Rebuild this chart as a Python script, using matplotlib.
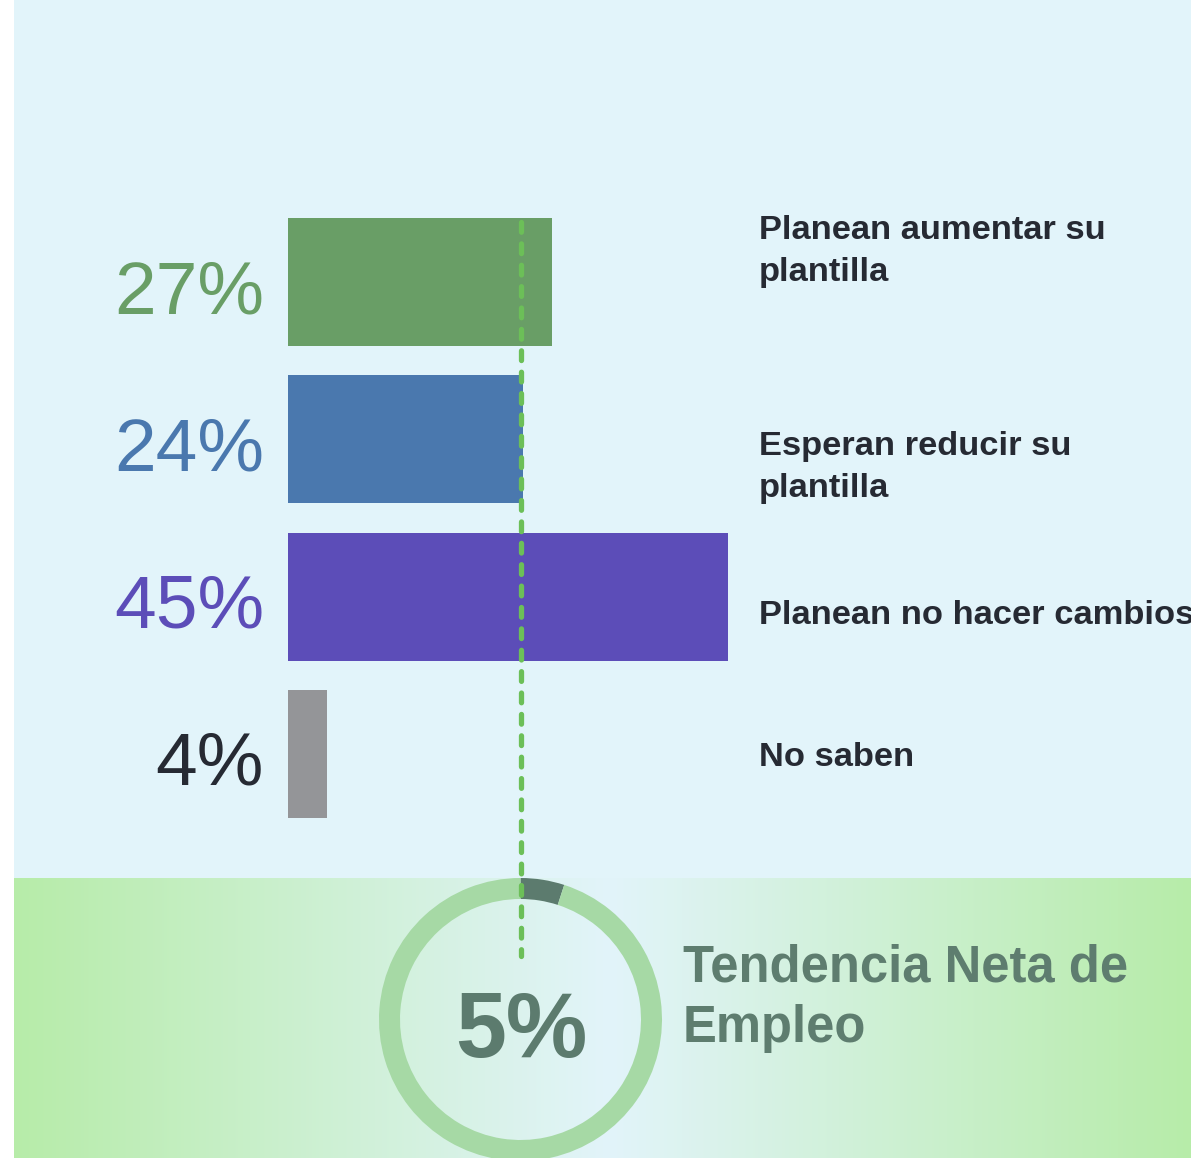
import numpy as np
import matplotlib
matplotlib.use("Agg")
import matplotlib.pyplot as plt
from matplotlib.colors import to_rgb

plt.rcParams['font.family'] = ['Liberation Sans', 'DejaVu Sans']
plt.rcParams['lines.scale_dashes'] = False

# datos
categorias = ["Planean aumentar su\nplantilla", "Esperan reducir su\nplantilla",
              "Planean no hacer cambios", "No saben"]
valores = [27, 24, 45, 4]
colores = ["#699e66", "#4a78ae", "#5c4db8", "#949598"]
colores_txt = ["#699e66", "#4a78ae", "#5c4db8", "#262a33"]
neta = 5
titulo_neta = ["Tendencia Neta de", "Empleo"]

W, H = 1191, 1158
fig = plt.figure(figsize=(W / 100, H / 100), dpi=100)
fig.patch.set_facecolor("white")

# fondo en coordenadas de pixel
bg = fig.add_axes([0, 0, 1, 1], zorder=0)
bg.set_xlim(0, W)
bg.set_ylim(H, 0)
bg.axis("off")
bg.add_patch(plt.Rectangle((14, 0), W - 14, 878, color="#e2f4fa", lw=0))

# degradado de la franja inferior
c_borde = np.array(to_rgb("#b7eca9"))
c_centro = np.array(to_rgb("#e2f4fa"))
xs = np.linspace(14, W, 600)
t = 1 - np.abs(xs - 610) / np.where(xs < 610, 610 - 14, W - 610)
grad = c_borde[None, :] + t[:, None] * (c_centro - c_borde)[None, :]
bg.imshow(grad[None, :, :], extent=[14, W, H, 878], aspect="auto", interpolation="bilinear")
bg.set_xlim(0, W)
bg.set_ylim(H, 0)

# anillo (donut)
r_px = 141.5
cx, cy = 520.5, 1019.5
axd = fig.add_axes([(cx - r_px) / W, (H - cy - r_px) / H, 2 * r_px / W, 2 * r_px / H], zorder=1)
axd.pie([neta, 100 - neta], colors=["#5c7b6e", "#a6d9a5"], startangle=90, counterclock=False,
        radius=1, wedgeprops=dict(width=21 / r_px, linewidth=0))
axd.set_xlim(-1, 1)
axd.set_ylim(-1, 1)
axd.axis("off")

# barras
px_por_pct = 440 / 45
sep = 157.33
y0 = 282
ax = fig.add_axes([288 / W, (H - 878) / H, (W - 288) / W, 878 / H], zorder=2)
ax.patch.set_alpha(0)
ax.set_xlim(0, (W - 288) / px_por_pct)
ax.set_ylim((878 - y0) / sep, -y0 / sep)
pos = np.arange(len(valores))
ax.barh(pos, valores, height=128 / sep, color=colores, linewidth=0)
ax.axis("off")

# capa superior: textos y linea discontinua
top = fig.add_axes([0, 0, 1, 1], zorder=3)
top.patch.set_alpha(0)
top.set_xlim(0, W)
top.set_ylim(H, 0)
top.axis("off")

top.plot([521, 521], [222, 956], color="#6cbf58", lw=3.8, dashes=(7, 8.4),
         solid_capstyle="round", dash_capstyle="round")

for i, (v, c) in enumerate(zip(valores, colores_txt)):
    top.text(264, y0 + i * sep + 31, f"{v}%", fontsize=54, color=c,
             ha="right", va="baseline")

lineas_y = [[239, 281], [455, 497], [624], [766]]
for cat, ys in zip(categorias, lineas_y):
    for linea, yb in zip(cat.split("\n"), ys):
        top.text(759, yb, linea, fontsize=24.8, fontweight="bold", color="#262a33",
                 ha="left", va="baseline")

top.text(521, 1057, f"{neta}%", fontsize=66, fontweight="bold", color="#5c7b6e",
         ha="center", va="baseline")
for linea, yb in zip(titulo_neta, [982, 1042]):
    top.text(683, yb, linea, fontsize=36.5, fontweight="bold", color="#5e7d6f",
             ha="left", va="baseline")

fig.savefig("out.png", dpi=100)
